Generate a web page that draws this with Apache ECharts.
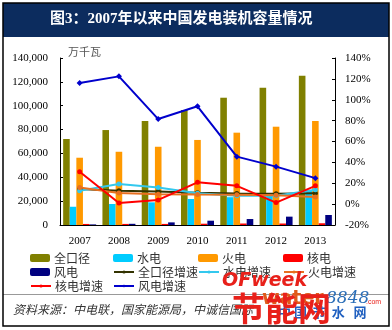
<!DOCTYPE html>
<html><head><meta charset="utf-8">
<script src="https://cdn.jsdelivr.net/npm/echarts@6/dist/echarts.min.js"></script>
<style>html,body{margin:0;padding:0;background:#fff}#c{width:392px;height:330px}</style>
</head><body><div id="c"></div>
<script>
const years = ['2007', '2008', '2009', '2010', '2011', '2012', '2013'];
const total = [72100, 79600, 87200, 96400, 106700, 115100, 125200];
const hydro = [15300, 17600, 19000, 21800, 23300, 24900, 28500];
const thermal = [56400, 61400, 65600, 71300, 77400, 82400, 87200];
const nuclear = [885, 908, 908, 1082, 1257, 1257, 1461];
const wind = [500, 1000, 2200, 3600, 5000, 7000, 8400];
const totalGrowth = [14.4, 12.8, 12, 11, 10.2, 10, 10.5];
const hydroGrowth = [12.8, 19.2, 16, 10.5, 8, 8, 13.7];
const thermalGrowth = [16, 10.6, 9.5, 9.2, 9, 8.5, 6.9];
const nuclearGrowth = [31, 1, 4, 20.9, 17.5, 1.5, 17.5];
const windGrowth = [116, 122.4, 81.5, 93.7, 45.5, 35.9, 24.9];
const titleText = '图3：2007年以来中国发电装机容量情况';
const unitText = '万千瓦';
const sourceText = '资料来源：中电联，国家能源局，中诚信国际';

const barNames = ['全口径', '水电', '火电', '核电', '风电'];
const barData = [total, hydro, thermal, nuclear, wind];
const barColors = ['#808000', '#00CCFF', '#FF9900', '#FF0000', '#000080'];
const lineNames = ['全口径增速', '水电增速', '火电增速', '核电增速', '风电增速'];
const lineData = [totalGrowth, hydroGrowth, thermalGrowth, nuclearGrowth, windGrowth];
const lineColors = ['#333300', '#33C8EE', '#E87020', '#FF0000', '#0000CC'];

const serif = '"Liberation Serif", "Times New Roman", serif';
const cjk = '"Noto Sans CJK SC", sans-serif';

const series = [];
barNames.forEach((n, i) => series.push({
  name: n, type: 'bar', data: barData[i], yAxisIndex: 0,
  itemStyle: { color: barColors[i] }, barGap: '0%', barCategoryGap: '16%'
}));
lineNames.forEach((n, i) => series.push({
  name: n, type: 'line', data: lineData[i], yAxisIndex: 1,
  color: lineColors[i], lineStyle: { width: 2, color: lineColors[i] },
  itemStyle: { color: lineColors[i] },
  symbol: i === 4 ? 'diamond' : 'circle', symbolSize: i === 4 ? 6 : 5, z: 5
}));

const legendCols = [30, 113, 198, 283];
const legendRows = [258, 272, 286];
const legendOrder = ['全口径', '水电', '火电', '核电', '风电', '全口径增速', '水电增速', '火电增速', '核电增速', '风电增速'];
const legends = legendOrder.map((n, k) => {
  const isBar = barNames.includes(n);
  const h = isBar ? 8 : 4;
  return {
    left: legendCols[k % 4], top: legendRows[Math.floor(k / 4)] - 7,
    data: [n], itemWidth: 20, itemHeight: h, itemGap: 0, padding: 0,
    textStyle: { fontFamily: cjk, fontSize: 12, color: '#333', lineHeight: 14, padding: [0, 0, 0, -1] }
  };
});

const chart = echarts.init(document.getElementById('c'), null, { renderer: 'canvas' });
chart.setOption({
  animation: false,
  backgroundColor: '#fff',
  grid: { left: 60, right: 57, top: 58, bottom: 105, containLabel: false },
  legend: legends,
  xAxis: {
    type: 'category', data: years,
    axisLine: { lineStyle: { color: '#000', width: 1 } },
    axisTick: { inside: true, length: 4, lineStyle: { color: '#000' } },
    axisLabel: { margin: 11, fontFamily: serif, fontSize: 11, color: '#000' }
  },
  yAxis: [{
    type: 'value', min: 0, max: 140000, interval: 20000,
    axisLine: { show: true, lineStyle: { color: '#000' } },
    axisTick: { show: true, inside: true, length: 3, lineStyle: { color: '#000' } },
    splitLine: { show: false },
    axisLabel: { margin: 12, fontFamily: serif, fontSize: 11, color: '#000',
      formatter: v => v.toLocaleString('en-US') }
  }, {
    type: 'value', min: -20, max: 140, interval: 20, position: 'right',
    axisLine: { show: true, lineStyle: { color: '#000' } },
    axisTick: { show: true, inside: true, length: 3, lineStyle: { color: '#000' } },
    splitLine: { show: false },
    axisLabel: { margin: 10, fontFamily: serif, fontSize: 11, color: '#000',
      formatter: v => v + '%' }
  }],
  series: series,
  graphic: [
    { type: 'rect', shape: { x: 3, y: 3, width: 386, height: 34 }, style: { fill: '#0C2C5E' }, z: 0 },
    { type: 'text', left: 50, top: 12, style: { text: titleText, fill: '#fff',
      font: 'bold 15px "Liberation Serif", "Noto Sans CJK SC", serif' }, z: 10 },
    { type: 'text', left: 68, top: 46, style: { text: unitText, fill: '#555',
      font: '11px "Noto Sans CJK SC", sans-serif' } },
    { type: 'line', shape: { x1: 3, y1: 294.5, x2: 389, y2: 294.5 }, style: { stroke: '#999', lineWidth: 1 } },
    { type: 'text', left: 13, top: 303, style: { text: sourceText, fill: '#333',
      font: 'italic 12px "Noto Sans CJK SC", sans-serif' } },
    { type: 'text', left: 222, top: 272, style: { text: 'OFweek', fill: '#E8201A',
      font: 'italic bold 19px "DejaVu Sans", sans-serif' }, z: 20 },
    { type: 'text', left: 262, top: 290, style: { text: 'water', fill: '#E05A1A',
      font: 'bold 19px "DejaVu Sans", sans-serif' }, z: 20 },
    { type: 'text', left: 326, top: 290, style: { text: '8848', fill: '#2C6FB8',
      font: 'italic 17px "DejaVu Serif", serif' }, z: 20 },
    { type: 'text', left: 366, top: 299, style: { text: '.com', fill: '#E8201A',
      font: '7px sans-serif' }, z: 20 },
    { type: 'text', left: 278, top: 306, style: { text: '中 国  节  水   网', fill: '#2060C0',
      font: 'bold 13px "Noto Sans CJK SC", sans-serif' }, z: 20 },
    { type: 'text', left: 232, top: 292, style: { text: '节能网', fill: '#E8201A',
      font: 'bold 33px "Noto Sans CJK SC", sans-serif' }, z: 21 },
    { type: 'rect', shape: { x: 3, y: 3, width: 386, height: 323 }, style: { fill: 'none', stroke: '#000', lineWidth: 1.5 }, z: 30 }
  ]
});
</script></body></html>
